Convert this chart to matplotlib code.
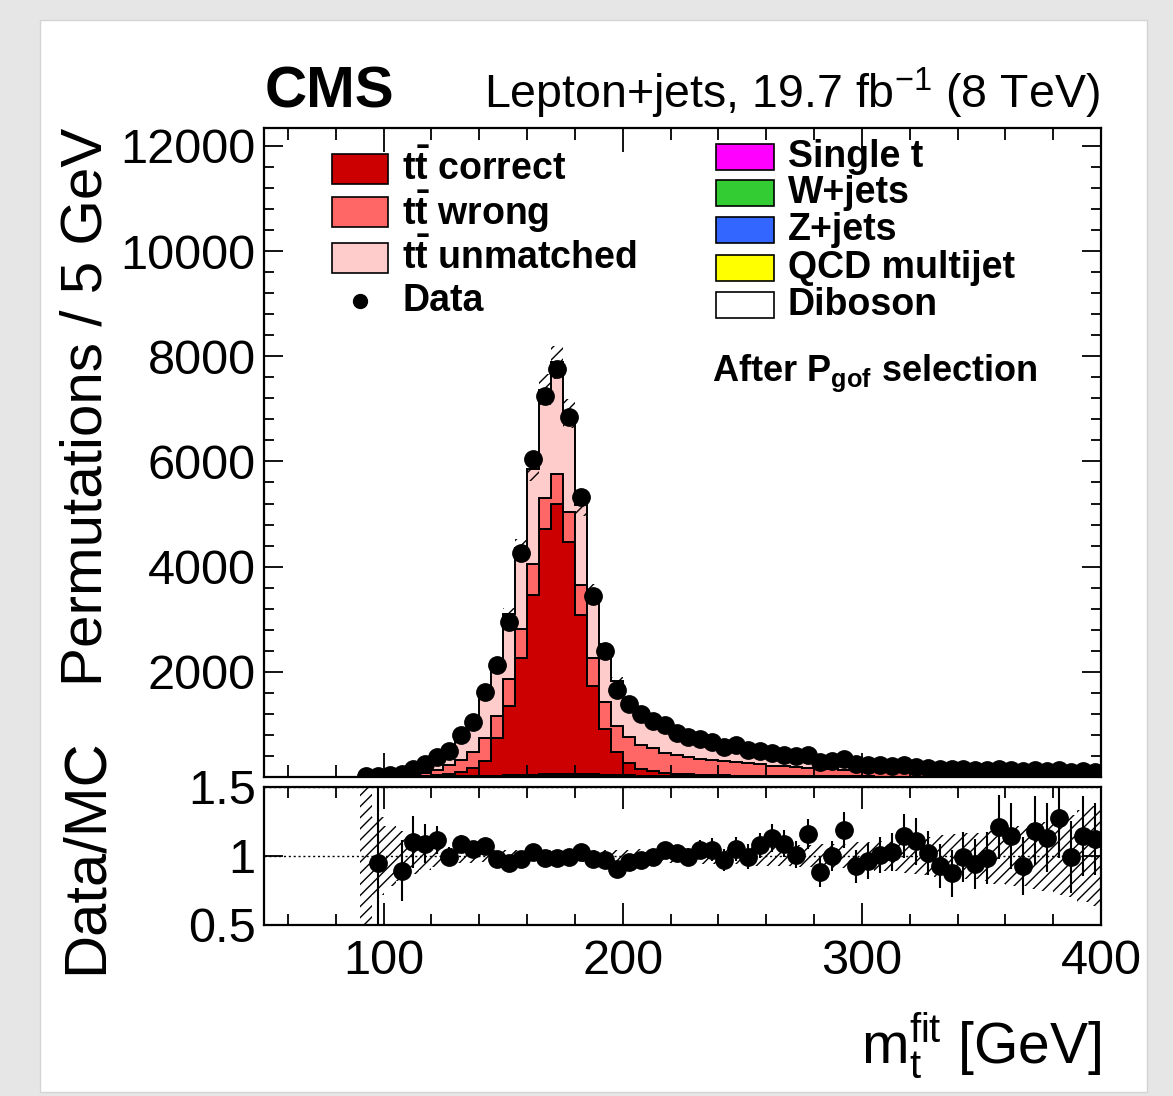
import numpy as np
import matplotlib
matplotlib.use("Agg")
import matplotlib.pyplot as plt
from matplotlib.patches import Rectangle
from matplotlib.lines import Line2D
from matplotlib.ticker import MultipleLocator, FixedLocator

plt.rcParams['font.family'] = ['Liberation Sans', 'DejaVu Sans']
plt.rcParams['mathtext.fontset'] = 'custom'
plt.rcParams['mathtext.rm'] = 'Liberation Sans'
plt.rcParams['mathtext.it'] = 'Liberation Sans:italic'
plt.rcParams['mathtext.bf'] = 'Liberation Sans:bold'
plt.rcParams['hatch.linewidth'] = 1.0

# 5 GeV bins, 90 - 400 GeV
edges = np.arange(90, 405, 5)

data = [15, 20, 45, 50, 150, 245, 385, 500, 800, 1050,
        1617, 2130, 2950, 4260, 6040, 7240, 7750, 6850, 5330, 3450,
        2390, 1655, 1397, 1194, 1074, 986, 840, 758, 720, 670,
        575, 607, 518, 487, 455, 423, 404, 423, 278, 309,
        341, 240, 225, 220, 215, 235, 195, 180, 160, 145,
        150, 140, 135, 150, 140, 110, 130, 120, 130, 100,
        110, 100]

tt_correct = [0, 1, 2, 4, 9, 15, 27, 40, 81, 162,
              278, 713, 1320, 2218, 3413, 4671, 5127, 4413, 3026, 1690,
              880, 443, 243, 117, 85, 53, 40, 32, 26, 21,
              18, 15, 13, 11, 10, 9, 7, 7, 6, 6,
              5, 5, 4, 4, 3, 3, 3, 3, 2, 2,
              2, 2, 2, 1, 1, 1, 2, 1, 1, 1,
              1, 1]

tt_wrong = [2, 4, 7, 12, 28, 56, 95, 170, 221, 290,
            440, 423, 506, 550, 588, 588, 582, 569, 568, 518,
            513, 490, 495, 465, 435, 385, 350, 323, 299, 284,
            265, 250, 234, 218, 195, 184, 174, 162, 150, 139,
            127, 119, 112, 106, 100, 94, 89, 83, 79, 74,
            71, 67, 63, 60, 56, 53, 50, 48, 45, 43,
            41, 39]

tt_unmatched = [5, 15, 18, 38, 96, 149, 215, 283, 418, 533,
                771, 1010, 1237, 1550, 1819, 2056, 2120, 1882, 1529, 1272,
                1021, 853, 696, 621, 534, 484, 414, 389, 347, 320,
                296, 299, 262, 212, 188, 186, 210, 188, 151, 157,
                148, 129, 111, 103, 101, 103, 80, 86, 87, 86,
                75, 77, 69, 60, 62, 62, 56, 55, 54, 55,
                52, 47]

single_t = [1, 1, 1, 1, 2, 4, 6, 8, 11, 14,
            17, 21, 25, 30, 35, 40, 44, 44, 42, 38,
            34, 30, 26, 22, 20, 18, 16, 14, 13, 12,
            11, 10, 10, 9, 8, 7, 7, 6, 6, 6,
            5, 5, 5, 4, 4, 4, 3, 3, 3, 3,
            2, 2, 2, 2, 2, 2, 2, 2, 2, 2,
            2, 2]

w_jets = [0, 0, 0, 1, 1, 1, 1, 1, 2, 2,
          3, 3, 4, 4, 5, 5, 6, 6, 5, 5,
          5, 4, 4, 4, 3, 3, 3, 3, 2, 2,
          2, 2, 1, 1, 1, 1, 1, 1, 1, 1,
          1, 1, 1, 1, 1, 1, 1, 1, 1, 1,
          1, 1, 1, 1, 1, 1, 0, 0, 0, 0,
          0, 0]

z_jets = [0, 0, 0, 0, 0, 0, 1, 1, 1, 1,
          1, 2, 2, 2, 2, 3, 3, 3, 3, 3,
          2, 2, 1, 1, 1, 1, 1, 1, 1, 1,
          1, 1, 1, 1, 1, 1, 1, 1, 1, 0,
          1, 0, 0, 0, 0, 0, 0, 0, 0, 0,
          0, 0, 0, 0, 0, 0, 0, 0, 0, 0,
          0, 0]

qcd = [0, 0, 0, 0, 0, 0, 0, 0, 0, 0,
       0, 1, 1, 1, 1, 1, 1, 1, 1, 1,
       1, 0, 0, 0, 0, 0, 0, 0, 0, 0,
       0, 0, 0, 0, 0, 0, 0, 0, 0, 0,
       0, 0, 0, 0, 0, 0, 0, 0, 0, 0,
       0, 0, 0, 0, 0, 0, 0, 0, 0, 0,
       0, 0]

diboson = [0, 0, 0, 0, 0, 0, 0, 0, 0, 0,
           0, 0, 1, 1, 1, 1, 1, 1, 1, 1,
           0, 0, 0, 0, 0, 0, 0, 0, 0, 0,
           0, 0, 0, 0, 0, 0, 0, 0, 0, 0,
           0, 0, 0, 0, 0, 0, 0, 0, 0, 0,
           0, 0, 0, 0, 0, 0, 0, 0, 0, 0,
           0, 0]

# relative uncertainty of the simulation (hatched band)
mc_unc = [1.0, 0.28, 0.22, 0.18, 0.13, 0.10, 0.08, 0.06, 0.05, 0.05,
          0.045, 0.04, 0.04, 0.04, 0.04, 0.04, 0.04, 0.04, 0.04, 0.04,
          0.04, 0.04, 0.045, 0.05, 0.05, 0.05, 0.05, 0.055, 0.055, 0.06,
          0.06, 0.06, 0.065, 0.07, 0.07, 0.075, 0.08, 0.08, 0.085, 0.09,
          0.09, 0.10, 0.10, 0.11, 0.11, 0.12, 0.13, 0.14, 0.15, 0.16,
          0.17, 0.17, 0.18, 0.2, 0.22, 0.22, 0.24, 0.25, 0.28, 0.3,
          0.33, 0.36]

# error on data/MC ratio
ratio_err = [0.3, 0.8, 0.05, 0.22, 0.19, 0.14, 0.10, 0.07, 0.06, 0.05,
             0.04, 0.03, 0.03, 0.03, 0.02, 0.02, 0.02, 0.02, 0.02, 0.03,
             0.03, 0.04, 0.04, 0.05, 0.05, 0.05, 0.06, 0.06, 0.07, 0.08,
             0.08, 0.085, 0.09, 0.09, 0.10, 0.10, 0.10, 0.11, 0.11, 0.11,
             0.13, 0.12, 0.13, 0.13, 0.14, 0.16, 0.17, 0.16, 0.16, 0.17,
             0.18, 0.18, 0.19, 0.23, 0.24, 0.21, 0.25, 0.25, 0.29, 0.26,
             0.29, 0.26]

# stack from bottom to top
stack = [diboson, qcd, z_jets, w_jets, single_t, tt_correct, tt_wrong, tt_unmatched]
stack_colors = ["white", "#ffff00", "#3366ff", "#33cc33", "#ff00ff", "#cc0000", "#ff6666", "#ffcccc"]

left_names = [r"$\mathbf{t\bar{t}}$ correct", r"$\mathbf{t\bar{t}}$ wrong", r"$\mathbf{t\bar{t}}$ unmatched"]
left_colors = ["#cc0000", "#ff6666", "#ffcccc"]
right_names = ["Single t", "W+jets", "Z+jets", "QCD multijet", "Diboson"]
right_colors = ["#ff00ff", "#33cc33", "#3366ff", "#ffff00", "white"]

W, H = 1173, 1096
fig = plt.figure(figsize=(W / 100, H / 100), dpi=100)
fig.patch.set_facecolor("#e6e6e6")
fig.add_artist(Rectangle((40 / W, 1 - 1092 / H), 1107 / W, 1072 / H, transform=fig.transFigure,
                         facecolor="white", edgecolor="#d4d4d4", lw=1, zorder=-5))

ax = fig.add_axes([264 / W, 1 - 777 / H, 837 / W, 649 / H])
rax = fig.add_axes([264 / W, 1 - 925 / H, 837 / W, 138 / H])

data = np.array(data, dtype=float)
centers = edges[:-1] + 2.5
cum = np.zeros(len(centers))
for comp, col in zip(stack, stack_colors):
    top = cum + np.array(comp, dtype=float)
    ax.stairs(top, edges, baseline=cum, fill=True, facecolor=col, edgecolor="black", lw=1.4)
    cum = top
total = cum
unc = np.array(mc_unc)

ax.stairs(total * (1 + unc), edges, baseline=total * (1 - unc), fill=True,
          facecolor="none", edgecolor="black", hatch="///", lw=0, zorder=3)
ax.errorbar(centers, data, yerr=np.array(ratio_err) * total, fmt="o", color="black",
            ms=12.5, elinewidth=1.5, capsize=0, zorder=5)

ax.set_xlim(50, 400)
ax.set_ylim(0, 12340)
ax.yaxis.set_major_locator(FixedLocator([2000, 4000, 6000, 8000, 10000, 12000]))
ax.yaxis.set_minor_locator(MultipleLocator(400))
ax.xaxis.set_major_locator(MultipleLocator(100))
ax.xaxis.set_minor_locator(MultipleLocator(20))
ax.set_xticklabels([])
ax.tick_params(which="both", direction="in", top=True, right=True, width=1.3, labelsize=35, pad=6)
ax.tick_params(axis="x", which="major", length=17)
ax.tick_params(axis="x", which="minor", length=8.5)
ax.tick_params(axis="y", which="major", length=14)
ax.tick_params(axis="y", which="minor", length=7)
for s in ax.spines.values():
    s.set_linewidth(1.6)
ax.set_ylabel("Permutations / 5 GeV", fontsize=42, loc="top")
ax.yaxis.set_label_coords(-0.18, 1.0)

# legends
for i, (name, col) in enumerate(zip(left_names, left_colors)):
    y = [0.9369, 0.8706, 0.7997][i]
    ax.add_patch(Rectangle((0.0812, y - 0.023), 0.0669, 0.046, transform=ax.transAxes,
                           facecolor=col, edgecolor="black", lw=1.2, zorder=6))
    ax.text(0.1649, y, name, transform=ax.transAxes, fontsize=27, fontweight="bold",
            va="center", ha="left", zorder=6)
ax.add_line(Line2D([0.1147], [0.7334], transform=ax.transAxes, marker="o", color="black", ms=10, zorder=6))
ax.text(0.1649, 0.7334, "Data", transform=ax.transAxes, fontsize=27, fontweight="bold",
        va="center", ha="left", zorder=6)

for i, (name, col) in enumerate(zip(right_names, right_colors)):
    y = [0.9553, 0.8998, 0.8428, 0.7843, 0.7273][i]
    ax.add_patch(Rectangle((0.540, y - 0.02), 0.0693, 0.040, transform=ax.transAxes,
                           facecolor=col, edgecolor="black", lw=1.2, zorder=6))
    ax.text(0.626, y, name, transform=ax.transAxes, fontsize=27, fontweight="bold",
            va="center", ha="left", zorder=6)

ax.text(0.535, 0.6225, r"After P$_{\mathbf{gof}}$ selection", transform=ax.transAxes,
        fontsize=26, fontweight="bold", va="center", ha="left", zorder=6)

# ratio panel
ratio = data / total
rax.stairs(1 + unc, edges, baseline=1 - unc, fill=True, facecolor="none",
           edgecolor="black", hatch="///", lw=0, zorder=2)
for yv in [0.5, 1.0, 1.5]:
    rax.axhline(yv, color="black", lw=1.0, ls=(0, (1.5, 2)), zorder=1)
rax.errorbar(centers, ratio, yerr=ratio_err, fmt="o", color="black",
             ms=12.5, elinewidth=1.5, capsize=0, zorder=5)
rax.set_xlim(50, 400)
rax.set_ylim(0.5, 1.5)
rax.yaxis.set_major_locator(FixedLocator([0.5, 1.0, 1.5]))
rax.set_yticklabels(["0.5", "1", "1.5"])
rax.xaxis.set_major_locator(MultipleLocator(100))
rax.xaxis.set_minor_locator(MultipleLocator(20))
rax.tick_params(which="both", direction="in", top=True, right=True, width=1.3, labelsize=35)
rax.tick_params(axis="x", which="major", length=16, pad=10)
rax.tick_params(axis="x", which="minor", length=8)
rax.tick_params(axis="y", which="major", length=14, pad=6)
for s in rax.spines.values():
    s.set_linewidth(1.6)
rax.set_xticks([100, 200, 300, 400])
rax.set_ylabel("Data/MC", fontsize=43)
rax.yaxis.set_label_coords(-0.18, 0.5)
rax.set_xlabel(r"m$_{\rm t}^{\rm fit}$ [GeV]", fontsize=41, loc="right")
rax.xaxis.set_label_coords(1.0, -0.62)
rax.xaxis.label.set_va("top")

fig.text(265 / W, 1 - 108 / H, "CMS", fontsize=42, fontweight="bold", ha="left", va="baseline")
fig.text(1100 / W, 1 - 108 / H, r"Lepton+jets, 19.7 fb$^{-1}$ (8 TeV)", fontsize=33.5,
         ha="right", va="baseline")

fig.savefig("out.png", dpi=100, facecolor=fig.get_facecolor())
